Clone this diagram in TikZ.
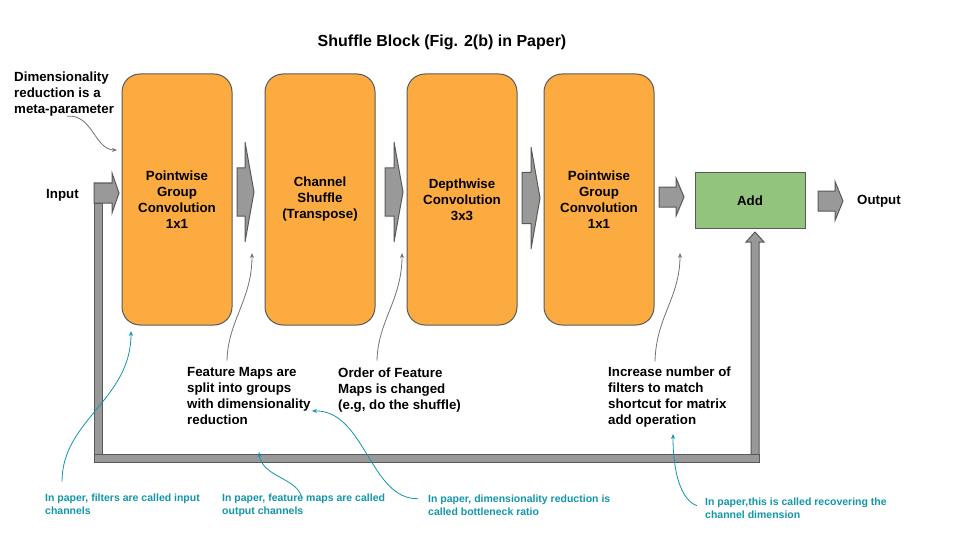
\documentclass[tikz,border=0pt]{standalone}
\usepackage{fontspec}
\setmainfont{Liberation Sans}
\usepackage{tikz}
\usetikzlibrary{arrows.meta}
\definecolor{BlkOrange}{RGB}{252,171,64}
\definecolor{AddGreen}{RGB}{147,196,125}
\definecolor{BarGray}{RGB}{153,153,153}
\definecolor{EdgeGray}{RGB}{89,89,89}
\definecolor{NoteTeal}{RGB}{18,150,168}

% fat block arrow: tail x, head base x, tip x, mid y, half shaft, half head
\newcommand{\fatarrow}[6]{%
  \draw[fat] (#1,{#4-#5}) -- (#2,{#4-#5}) -- (#2,{#4-#6}) -- (#3,#4)
    -- (#2,{#4+#6}) -- (#2,{#4+#5}) -- (#1,{#4+#5}) -- cycle;}

\begin{document}
\begin{tikzpicture}[x=1pt, y=-1pt,
            blk/.style={rectangle, rounded corners=18pt, draw=EdgeGray, line width=1pt,
                        fill=BlkOrange, minimum width=110pt, minimum height=251pt,
                        align=center, font=\fontsize{13.3}{16}\selectfont\bfseries},
            fat/.style={draw=EdgeGray, line width=1pt, fill=BarGray},
            note/.style={anchor=north west, inner sep=0pt, align=left,
                         font=\fontsize{13.3}{16}\selectfont\bfseries},
            tnote/.style={note, text=NoteTeal, font=\fontsize{10.5}{13}\selectfont\bfseries},
            ptr/.style={draw=EdgeGray!85, line width=0.8pt, -{Stealth[length=5pt,width=4pt]}},
            tptr/.style={ptr, draw=NoteTeal}
          ]
          \useasboundingbox (0,0) rectangle (960,540);
          \node[font=\fontsize{16}{19}\selectfont\bfseries] (title) at (442,42)
                {Shuffle Block (Fig. 2(b) in Paper)};

          % shortcut path
          \draw[fat] (94,203) rectangle (102,455);
          \draw[fat] (751,455) -- (751,242) -- (746,242) -- (755,232) -- (764,242)
                -- (759,242) -- (759,455);
          \draw[fat] (94,454) rectangle (759,462);

          % main path
          \node[blk] (b1) at (177,199.5) {Pointwise\\Group\\Convolution\\1x1};
          \node[blk] (b2) at (320,199.5) {Channel\\Shuffle\\(Transpose)};
          \node[blk] (b3) at (462,199.5) {Depthwise\\Convolution\\3x3};
          \node[blk] (b4) at (599,199.5) {Pointwise\\Group\\Convolution\\1x1};
          \node[blk, fill=AddGreen, rounded corners=0pt, minimum height=55pt]
                (add) at (750,200.5) {Add};
          \fatarrow{94}{112}{119}{193}{10}{20}
          \fatarrow{237}{245}{254}{192}{24}{50}
          \fatarrow{385}{394}{403}{192}{24}{50}
          \fatarrow{522}{531}{540}{198}{25.5}{51}
          \fatarrow{659}{676}{684}{197}{10}{19}
          \fatarrow{818}{835}{843}{201}{10}{19.5}
          \node[note, anchor=west] (input) at (46,195) {Input};
          \node[note, anchor=west] (output) at (857,201) {Output};

          % black notes
          \node[note] (meta) at (14,71.5) {Dimensionality\\reduction is a\\meta-parameter};
          \node[note] (feat) at (187,367.5)
                {Feature Maps are\\split into groups\\with dimensionality\\reduction};
          \node[note] (order) at (338,367.5)
                {Order of Feature\\Maps is changed\\(e.g, do the shuffle)};
          \node[note] (incr) at (608,366.5)
                {Increase number of\\filters to match\\shortcut for matrix\\add operation};
          \coordinate (metaT) at (117,150);
          \coordinate (featT) at (252,253);
          \coordinate (orderT) at (402,253);
          \coordinate (incrT) at (680,253);
          \draw[ptr] ([xshift=53pt]meta.south west) .. controls +(25,-3) and +(-22,0) .. (metaT);
          \draw[ptr] ([xshift=40pt,yshift=7pt]feat.north west) .. controls +(1,-40) and +(0,47) .. (featT);
          \draw[ptr] ([xshift=39pt,yshift=7pt]order.north west) .. controls +(1,-40) and +(0,47) .. (orderT);
          \draw[ptr] ([xshift=47pt,yshift=5pt]incr.north west) .. controls +(1,-45) and +(0,45) .. (incrT);

          % teal notes
          \node[tnote] (filt) at (45,493.7) {In paper, filters are called input\\channels};
          \node[tnote] (fmap) at (222,493.7) {In paper, feature maps are called\\output channels};
          \node[tnote] (bneck) at (428,494.7)
                {In paper, dimensionality reduction is\\called bottleneck ratio};
          \node[tnote] (recov) at (705,497.7)
                {In paper,this is called recovering the\\channel dimension};
          \coordinate (filtT) at (131,331);
          \coordinate (fmapT) at (259,452);
          \coordinate (bneckT) at (312,411);
          \coordinate (recovT) at (673,434);
          \draw[tptr] ([xshift=17pt,yshift=12pt]filt.north west) .. controls +(0,-62) and +(0,69) .. (filtT);
          \draw[tptr] ([xshift=80pt,yshift=-6pt]fmap.north west) .. controls +(-2,-22) and +(3,26) .. (fmapT);
          \draw[tptr] ([xshift=-10pt,yshift=-4pt]bneck.north west) .. controls +(-48,1) and +(53,-1) .. (bneckT);
          \draw[tptr] ([xshift=-8pt,yshift=-8pt]recov.north west) .. controls +(-17,-6) and +(0,36) .. (recovT);
        \end{tikzpicture}
\end{document}
